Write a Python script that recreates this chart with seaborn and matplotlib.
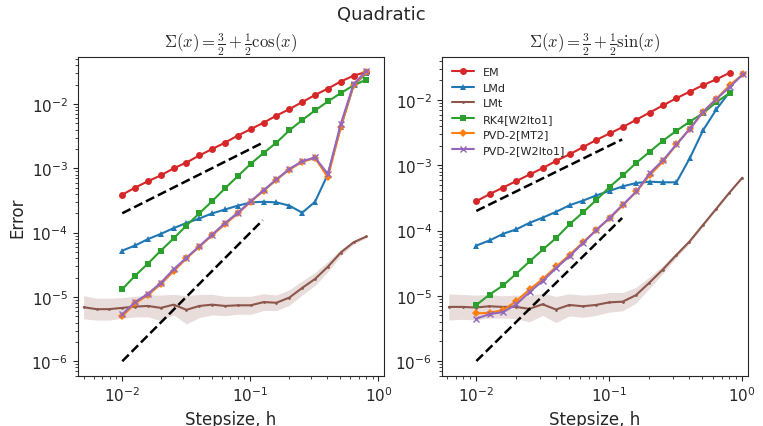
import numpy as np
import pandas as pd
import matplotlib
matplotlib.use('Agg')
import matplotlib.pyplot as plt
import seaborn as sns

sns.set_style('ticks')
plt.rcParams['mathtext.fontset'] = 'cm'

# step sizes (h = 0.01 * 2^(k/3))
h_main = [0.0100, 0.0126, 0.0159, 0.0200, 0.0252, 0.0317, 0.0400, 0.0504, 0.0635, 0.0800,
          0.1008, 0.1270, 0.1600, 0.2016, 0.2540, 0.3200, 0.4032, 0.5080, 0.6400, 0.8063]
h_right_pvd = h_main + [1.0159]
h_lmt_left = [0.0050, 0.0063, 0.0079] + h_main
h_lmt_right = [0.0062, 0.0079, 0.0099, 0.0125, 0.0157, 0.0198, 0.0250, 0.0315, 0.0397, 0.0500,
               0.0630, 0.0794, 0.1000, 0.1260, 0.1587, 0.2000, 0.2520, 0.3175, 0.4000, 0.5040,
               0.6350, 0.8000, 1.0000]

# log10 errors, left panel (cos)
L_em = [-3.41, -3.30, -3.20, -3.11, -3.00, -2.91, -2.80, -2.70, -2.60, -2.49,
        -2.39, -2.29, -2.18, -2.08, -1.97, -1.86, -1.76, -1.65, -1.56, -1.50]
L_lmd = [-4.28, -4.20, -4.10, -4.02, -3.93, -3.85, -3.78, -3.70, -3.64, -3.58,
         -3.53, -3.52, -3.53, -3.58, -3.69, -3.52, -3.09, -2.36, -1.71, -1.52]
L_rk4 = [-4.88, -4.67, -4.48, -4.28, -4.09, -3.89, -3.70, -3.51, -3.31, -3.12,
         -2.93, -2.76, -2.60, -2.41, -2.25, -2.10, -1.96, -1.83, -1.71, -1.62]
L_mt2 = [-5.30, -5.10, -4.97, -4.80, -4.60, -4.40, -4.22, -4.04, -3.87, -3.70,
         -3.52, -3.35, -3.18, -3.02, -2.90, -2.84, -3.14, -2.36, -1.71, -1.50]
L_w2 = [-5.27, -5.08, -4.95, -4.78, -4.57, -4.39, -4.21, -4.03, -3.85, -3.69,
        -3.51, -3.34, -3.17, -3.01, -2.89, -2.83, -3.09, -2.31, -1.69, -1.48]
L_lmt = [-5.16, -5.19, -5.19, -5.17, -5.15, -5.14, -5.17, -5.12, -5.20, -5.14, -5.12, -5.14,
         -5.13, -5.13, -5.08, -5.09, -5.01, -4.86, -4.72, -4.53, -4.31, -4.15, -4.06]
L_lmt_sd = [0.18, 0.17, 0.17, 0.16, 0.16, 0.17, 0.20, 0.16, 0.22, 0.18, 0.16, 0.15,
            0.14, 0.14, 0.13, 0.12, 0.12, 0.11, 0.10, 0.08, 0.05, 0.03, 0.02]

# log10 errors, right panel (sin)
R_em = [-3.55, -3.44, -3.34, -3.24, -3.14, -3.04, -2.93, -2.83, -2.72, -2.61,
        -2.51, -2.41, -2.30, -2.19, -2.08, -1.97, -1.87, -1.77, -1.68, -1.58]
R_lmd = [-4.23, -4.15, -4.05, -3.98, -3.88, -3.80, -3.71, -3.61, -3.54, -3.46,
         -3.39, -3.32, -3.27, -3.25, -3.26, -3.26, -2.89, -2.46, -2.14, -1.87]
R_rk4 = [-5.14, -4.98, -4.84, -4.66, -4.47, -4.29, -4.11, -3.90, -3.72, -3.53,
         -3.33, -3.15, -2.96, -2.79, -2.62, -2.47, -2.33, -2.20, -2.03, -1.89]
R_mt2 = [-5.27, -5.26, -5.22, -5.08, -4.90, -4.74, -4.55, -4.37, -4.18, -3.99, -3.81,
         -3.61, -3.40, -3.15, -2.94, -2.68, -2.44, -2.18, -1.98, -1.77, -1.60]
R_w2 = [-5.35, -5.28, -5.25, -5.13, -4.94, -4.77, -4.57, -4.39, -4.19, -3.99, -3.80,
        -3.60, -3.40, -3.12, -2.92, -2.68, -2.44, -2.18, -1.98, -1.80, -1.60]
R_lmt = [-5.17, -5.17, -5.18, -5.16, -5.17, -5.17, -5.20, -5.13, -5.21, -5.14, -5.16, -5.14,
         -5.10, -5.09, -4.99, -4.80, -4.60, -4.38, -4.17, -3.92, -3.67, -3.42, -3.19]
R_lmt_sd = [0.20, 0.19, 0.19, 0.18, 0.17, 0.18, 0.20, 0.17, 0.20, 0.17, 0.17, 0.16,
            0.15, 0.14, 0.12, 0.09, 0.06, 0.04, 0.03, 0.02, 0.02, 0.01, 0.01]

labels = ['EM', 'LMd', 'LMt', 'RK4[W2Ito1]', 'PVD-2[MT2]', 'PVD-2[W2Ito1]']
colors = ['#d62728', '#1f77b4', '#8c564b', '#2ca02c', '#ff7f0e', '#9467bd']
markers = ['o', '^', '.', 's', 'D', 'x']
msizes = [5, 5, 4, 5, 4, 5]

panels = [
    (r'$\Sigma(x) = \frac{3}{2} + \frac{1}{2}\cos(x)$',
     [(h_main, L_em), (h_main, L_lmd), (h_lmt_left, L_lmt), (h_main, L_rk4), (h_main, L_mt2), (h_main, L_w2)],
     L_lmt_sd, (0.0045, 1.1), (10**-6.23, 10**-1.27)),
    (r'$\Sigma(x) = \frac{3}{2} + \frac{1}{2}\sin(x)$',
     [(h_main, R_em), (h_main, R_lmd), (h_lmt_right, R_lmt), (h_main, R_rk4), (h_right_pvd, R_mt2), (h_right_pvd, R_w2)],
     R_lmt_sd, (0.0055, 1.1), (10**-6.23, 10**-1.34)),
]

fig, axes = plt.subplots(1, 2, figsize=(7.63, 4.27), dpi=100)
for ax, (title, series, sd, xl, yl) in zip(axes, panels):
    for i, (h, v) in enumerate(series):
        df = pd.DataFrame({'h': h, 'err': 10 ** np.array(v)})
        sns.lineplot(data=df, x='h', y='err', ax=ax, color=colors[i], marker=markers[i],
                     markersize=msizes[i], markeredgewidth=1 if markers[i] == 'x' else 0,
                     markeredgecolor=colors[i], linewidth=1.5, label=labels[i])
        if labels[i] == 'LMt':
            v = np.array(v)
            ax.fill_between(h, 10 ** (v - np.array(sd)), 10 ** (v + np.array(sd)),
                            color=colors[i], alpha=0.2, linewidth=0)
    # reference slopes
    ax.plot([0.01, 0.125], [2e-4, 2.5e-3], 'k--', lw=1.8)
    ax.plot([0.01, 0.125], [1e-6, 1.5625e-4], 'k--', lw=1.8)
    ax.set_xscale('log')
    ax.set_yscale('log')
    ax.set_xlim(*xl)
    ax.set_ylim(*yl)
    ax.set_title(title, fontsize=12)
    ax.set_xlabel('Stepsize, h', fontsize=12)
    ax.set_ylabel('')
    ax.tick_params(labelsize=11)
    ax.get_legend().remove()

axes[0].set_ylabel('Error', fontsize=12)
axes[1].legend(loc='upper left', fontsize=8, frameon=False)
fig.suptitle('Quadratic', fontsize=13, y=0.985)
fig.subplots_adjust(left=0.102, right=0.98, top=0.864, bottom=0.117, wspace=0.19)
fig.savefig('out.png', dpi=100)
